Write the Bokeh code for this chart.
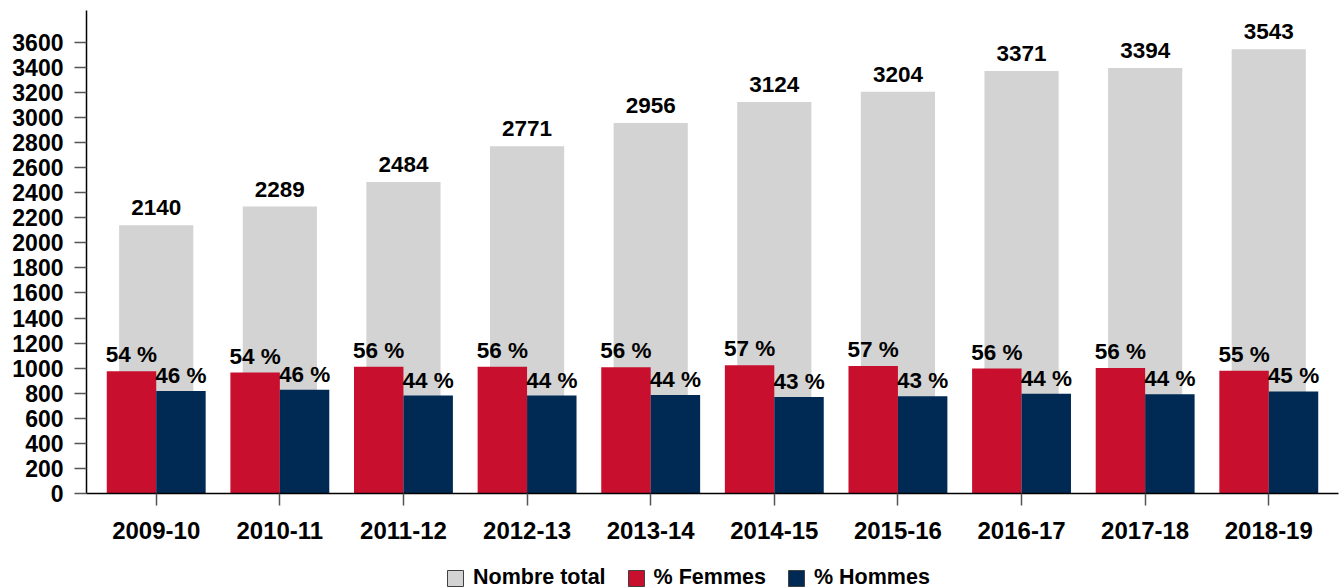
from bokeh.plotting import figure
from bokeh.layouts import column
from bokeh.models import (ColumnDataSource, Range1d, FixedTicker, Legend,
                          LegendItem, LabelSet)
from bokeh.transform import dodge
from bokeh.core.properties import value
from bokeh.embed import file_html
from bokeh.resources import INLINE

# ---- data ----
annees = ["2009-10", "2010-11", "2011-12", "2012-13", "2013-14",
          "2014-15", "2015-16", "2016-17", "2017-18", "2018-19"]
nombre_total = [2140, 2289, 2484, 2771, 2956, 3124, 3204, 3371, 3394, 3543]
pct_femmes = [54.4, 53.8, 56.4, 56.4, 56.2, 57.1, 56.7, 55.6, 55.8, 54.6]
pct_hommes = [45.6, 46.2, 43.6, 43.6, 43.8, 42.9, 43.3, 44.4, 44.2, 45.4]
y_ticks = list(range(0, 3601, 200))
legend_labels = ["Nombre total", "% Femmes", "% Hommes"]

FONT = "Liberation Sans"
GRAY = "#D3D3D3"
RED = "#C8102E"
NAVY = "#002A54"

src = ColumnDataSource(dict(
    x=list(range(len(annees))),
    total=nombre_total,
    fem=pct_femmes,
    hom=pct_hommes,
    total_lbl=[str(v) for v in nombre_total],
    fem_lbl=[f"{round(v)} %" for v in pct_femmes],
    hom_lbl=[f"{round(v)} %" for v in pct_hommes],
))

p = figure(width=1341, height=550, output_backend="svg", toolbar_location=None,
           x_range=Range1d(-0.564, 9.564), y_range=Range1d(0, 3853),
           min_border_left=86, min_border_right=3, min_border_top=10,
           min_border_bottom=57)
p.extra_y_ranges = {"pct": Range1d(0, 214.9)}

p.xgrid.visible = False
p.ygrid.visible = False
p.outline_line_color = None
p.background_fill_color = "white"
p.border_fill_color = "white"

# bars
p.vbar(x="x", top="total", width=0.6, source=src,
       fill_color=GRAY, line_color=None)
p.vbar(x=dodge("x", -0.2), top="fem", width=0.4, source=src,
       y_range_name="pct", fill_color=RED, line_color=None)
p.vbar(x=dodge("x", 0.2), top="hom", width=0.4, source=src,
       y_range_name="pct", fill_color=NAVY, line_color=None)

# value labels
common = dict(text_align="center", text_baseline="alphabetic",
              text_font=value(FONT), text_font_style="bold",
              text_font_size="22.5px", text_color="black", source=src)
p.add_layout(LabelSet(x="x", y="total", text="total_lbl", y_offset=10,
                      **common))
p.add_layout(LabelSet(x=dodge("x", -0.2), y="fem", text="fem_lbl",
                      y_offset=9, y_range_name="pct", **common))
p.add_layout(LabelSet(x=dodge("x", 0.2), y="hom", text="hom_lbl",
                      y_offset=8, y_range_name="pct", **common))

# axes
for ax in (p.xaxis[0], p.yaxis[0]):
    ax.axis_line_color = "black"
    ax.axis_line_width = 1.5
    ax.major_tick_line_color = "#555555"
    ax.major_tick_line_width = 1.5
    ax.major_tick_in = 0
    ax.major_tick_out = 12
    ax.minor_tick_line_color = None
    ax.major_label_text_font = FONT
    ax.major_label_text_font_style = "bold"
    ax.major_label_text_color = "black"

p.xaxis.major_label_text_font_size = "24px"
p.xaxis.major_label_standoff = 16
p.yaxis.major_label_text_font_size = "23px"
p.yaxis.major_label_standoff = 11

p.xaxis.ticker = FixedTicker(ticks=list(range(len(annees))))
p.xaxis.major_label_overrides = {i: a for i, a in enumerate(annees)}
p.yaxis.ticker = FixedTicker(ticks=y_ticks)

# legend strip below the chart (NaN proxy renderers carry the swatches)
lg = figure(width=1341, height=38, output_backend="svg", toolbar_location=None,
            x_range=Range1d(0, 1), y_range=Range1d(0, 1),
            x_axis_type=None, y_axis_type=None,
            min_border=0, min_border_left=0, min_border_right=0,
            min_border_top=0, min_border_bottom=0)
lg.xgrid.visible = False
lg.ygrid.visible = False
lg.outline_line_color = None
colors = [GRAY, RED, NAVY]
items = []
nan = float("nan")
for lbl, c in zip(legend_labels, colors):
    r = lg.vbar(x=[nan], top=[nan], width=0.5, fill_color=c,
                line_color="#404040", line_width=1)
    items.append(LegendItem(label=lbl, renderers=[r]))

legend = Legend(items=items, orientation="horizontal", location=(359, -2),
                glyph_width=20, glyph_height=20, label_standoff=8, spacing=20,
                padding=0, margin=0, border_line_color=None,
                background_fill_alpha=0,
                label_text_font=FONT, label_text_font_style="bold",
                label_text_font_size="21.5px", label_text_color="black")
lg.add_layout(legend, "center")

layout = column(p, lg, spacing=0)
open("out.html", "w").write(file_html(layout, INLINE))
